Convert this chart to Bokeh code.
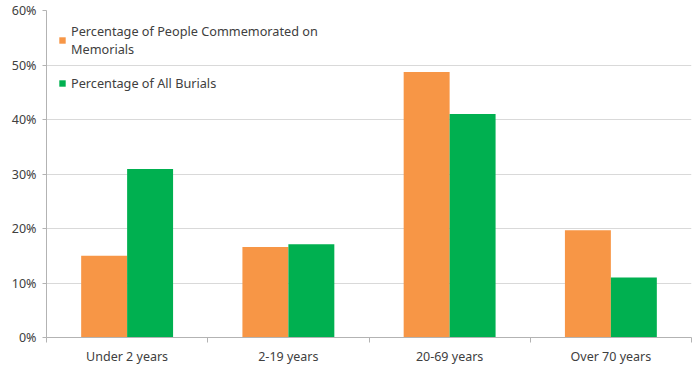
from bokeh.plotting import figure
from bokeh.models import ColumnDataSource, FixedTicker, NumeralTickFormatter, Legend, LegendItem, Range1d
from bokeh.embed import file_html
from bokeh.resources import INLINE

categories = ["Under 2 years", "2-19 years", "20-69 years", "Over 70 years"]
memorials = [0.150, 0.166, 0.487, 0.197]
burials = [0.309, 0.171, 0.410, 0.110]
series_names = ["Percentage of People Commemorated on\nMemorials", "Percentage of All Burials"]
y_ticks = [0, 0.1, 0.2, 0.3, 0.4, 0.5, 0.6]

FONT = "Noto Sans"
TXT = "#404040"
GRID = "#d9d9d9"
AXIS = "#b3b3b3"

idx = list(range(len(categories)))
centers = [i + 0.5 for i in idx]
bw = 0.285
src = ColumnDataSource(dict(
    cat=categories,
    xm=[c - bw / 2 for c in centers],
    xb=[c + bw / 2 for c in centers],
    mem=memorials,
    bur=burials,
))

p = figure(width=700, height=369, output_backend="svg", toolbar_location=None,
           x_range=Range1d(0, len(categories)), y_range=Range1d(0, 0.6),
           min_border_left=46, min_border_right=9, min_border_top=10, min_border_bottom=32)
p.outline_line_color = None
p.background_fill_color = "white"

r1 = p.vbar(x="xm", top="mem", width=bw, source=src, fill_color="#F79646", line_color=None)
r2 = p.vbar(x="xb", top="bur", width=bw, source=src, fill_color="#00B050", line_color=None)

# x axis: labels at centers, ticks at boundaries
p.xaxis.ticker = FixedTicker(ticks=centers, minor_ticks=[float(i) for i in range(len(categories) + 1)])
p.xaxis.major_label_overrides = {c: categories[i] for i, c in enumerate(centers)}
p.xaxis.major_tick_line_color = None
p.xaxis.major_tick_out = 0
p.xaxis.major_tick_in = 0
p.xaxis.minor_tick_line_color = AXIS
p.xaxis.minor_tick_out = 5
p.xaxis.minor_tick_in = 0
p.xaxis.axis_line_color = AXIS
p.xaxis.major_label_text_font = FONT
p.xaxis.major_label_text_font_size = "12.5px"
p.xaxis.major_label_text_color = TXT
p.xaxis.major_label_standoff = 5
p.xgrid.visible = False

p.yaxis.ticker = FixedTicker(ticks=y_ticks, minor_ticks=[])
p.yaxis.formatter = NumeralTickFormatter(format="0%")
p.yaxis.axis_line_color = AXIS
p.yaxis.major_tick_line_color = AXIS
p.yaxis.major_tick_out = 4
p.yaxis.major_tick_in = 0
p.yaxis.minor_tick_line_color = None
p.yaxis.major_label_text_font = FONT
p.yaxis.major_label_text_font_size = "12.5px"
p.yaxis.major_label_text_color = TXT
p.yaxis.major_label_standoff = 6
p.ygrid.ticker = FixedTicker(ticks=y_ticks[1:])
p.ygrid.grid_line_color = GRID

legend = Legend(items=[LegendItem(label=series_names[0], renderers=[r1]),
                       LegendItem(label=series_names[1], renderers=[r2])],
                location="top_left")
legend.background_fill_alpha = 0
legend.border_line_alpha = 0
legend.label_text_font = FONT
legend.label_text_font_size = "12.7px"
legend.label_text_color = TXT
legend.glyph_width = 8
legend.glyph_height = 8
legend.label_standoff = 5
legend.spacing = 16
legend.margin = 8
legend.padding = 4
p.add_layout(legend)

open("out.html", "w").write(file_html(p, INLINE))
